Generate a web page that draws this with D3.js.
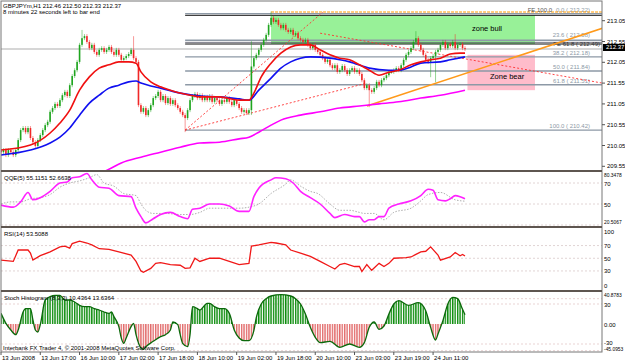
<!DOCTYPE html>
<html>
<head>
<meta charset="utf-8">
<script src="https://cdn.jsdelivr.net/npm/d3@7"></script>
<style>
  body { margin: 0; background: #fff; }
  svg { display: block; font-family: "Liberation Sans", Arial, sans-serif; }
</style>
</head>
<body>
<script>
// ---- data ----
const symbolTitle = "GBPJPYm,H1  212.46 212.50 212.33 212.37";
const timerText = "8 minutes 22 seconds left to bar end";

// hourly closes, open = previous close
const closes = [
  209.89,209.94,209.82,209.94,209.89,209.82,209.94,210.18,
  210.42,210.47,210.37,210.47,210.23,210.13,210.04,210.18,
  210.30,210.42,210.54,210.62,210.86,210.95,211.05,211.00,
  211.14,211.26,211.34,211.24,211.50,211.72,211.86,212.06,
  212.47,212.63,212.68,212.54,212.39,212.47,212.30,212.23,
  212.35,212.39,212.30,212.35,212.42,212.30,212.23,212.35,
  212.23,212.11,212.15,212.20,212.25,212.35,212.15,212.06,
  211.02,210.86,210.95,210.78,210.90,211.02,211.19,211.24,
  211.34,211.14,211.24,211.07,211.19,211.05,211.14,211.02,
  210.95,210.86,210.78,210.71,210.90,211.14,211.24,211.29,
  211.19,211.26,211.14,211.22,211.14,211.24,211.10,211.19,
  211.14,211.05,211.14,211.10,211.19,211.10,211.02,211.14,
  211.05,210.95,210.86,210.90,210.83,210.90,211.95,212.15,
  212.23,212.35,212.47,212.59,212.71,212.95,213.12,213.02,
  213.07,212.95,212.87,212.95,212.83,212.78,212.83,212.71,
  212.75,212.63,212.59,212.54,212.59,212.47,212.39,212.47,
  212.35,212.30,212.23,212.15,212.06,212.11,211.98,211.91,
  211.98,211.82,211.86,211.96,211.86,211.77,211.86,211.91,
  211.82,211.86,211.77,211.62,211.43,211.50,211.38,211.34,
  211.43,211.58,211.50,211.62,211.67,211.74,211.82,211.82,
  211.86,211.91,211.86,211.98,212.11,212.23,212.30,212.39,
  212.54,212.63,212.47,212.35,212.23,212.11,212.06,212.15,
  212.20,212.30,212.35,212.47,212.54,212.39,212.49,212.44,
  212.54,212.39,212.47,212.49,212.39,212.37
];
const firstOpen = 209.92;
// long wicks
const spikeBars  = [33, 54, 75, 102, 110, 150, 169, 175, 177, 185];
const spikeHighs = [212.78, 212.63, null, 212.51, 213.22, null, 212.75, null, null, 212.68];
const spikeLows  = [null, null, 210.42, 210.83, null, 211.02, null, 211.74, 211.62, null];

// moving averages: [bar, price]
const redMA = [[0,209.94],[12,210.06],[20,210.35],[24,210.59],[28,210.90],[32,211.38],[36,211.70],[40,211.91],[44,211.99],[48,212.06],[52,212.06],[55,212.03],[57,211.82],[61,211.58],[65,211.46],[69,211.38],[73,211.31],[77,211.26],[81,211.22],[89,211.22],[97,211.14],[101,211.14],[103,211.31],[106,211.70],[110,212.03],[114,212.27],[118,212.42],[122,212.47],[126,212.47],[130,212.35],[134,212.23],[138,212.15],[142,212.11],[146,211.99],[150,211.86],[154,211.74],[158,211.81],[162,211.86],[167,211.99],[171,212.06],[175,212.11],[179,212.15],[183,212.25],[187,212.27],[189,212.27]];
const blueMA = [[0,209.82],[12,209.94],[20,210.11],[24,210.25],[28,210.47],[32,210.78],[36,211.07],[40,211.26],[44,211.43],[48,211.50],[52,211.58],[55,211.60],[57,211.55],[61,211.48],[65,211.43],[73,211.31],[81,211.24],[89,211.22],[97,211.17],[101,211.14],[105,211.38],[110,211.67],[114,211.91],[118,212.06],[122,212.15],[126,212.18],[134,212.15],[138,212.11],[142,212.06],[150,211.91],[158,211.86],[162,211.86],[167,211.94],[171,212.03],[179,212.06],[183,212.11],[189,212.18]];
const magentaMA = [[42,209.42],[45,209.51],[49,209.63],[57,209.77],[65,209.89],[73,210.01],[81,210.11],[89,210.13],[97,210.21],[101,210.25],[105,210.37],[110,210.54],[114,210.66],[122,210.78],[130,210.86],[138,210.95],[146,211.00],[154,211.05],[162,211.10],[171,211.19],[179,211.26],[189,211.38]];

// fibonacci retracement (drawn from bar 75)
const fibNames  = ["0.0", "23.6", "38.2", "50.0", "61.8", "100.0"];
const fibPrices = [213.22, 212.58, 212.18, 211.84, 211.51, 210.42];
const fibStart = 75;
const zoneNames = ["zone bull", "Zone bear"];
const zoneStart = [110, 190];
const zoneEnd   = [217.5, 217.5];
const zoneHigh  = [213.18, 212.23];
const zoneLow   = [212.49, 211.38];
const zoneColors = ["#98f198", "#ffbccb"];
// trend lines: [bar1, price1, bar2, price2]
const orangeLine = [149, 211.00, 245, 212.87];
const redDotted = [[75, 210.42, 131, 213.25], [75, 210.42, 149, 211.55], [130, 212.75, 245, 211.55]];
const bidPrice = 212.37;

const priceTicks = [213.05, 212.55, 212.05, 211.55, 211.05, 210.55, 210.05, 209.55];
const timeBars = [0, 16, 32, 48, 64, 80, 96, 112, 128, 144, 160, 176];
const timeLabels = ["13 Jun 2008", "13 Jun 17:00", "16 Jun 10:00", "17 Jun 02:00", "17 Jun 18:00", "18 Jun 10:00",
  "19 Jun 02:00", "19 Jun 18:00", "20 Jun 10:00", "23 Jun 03:00", "23 Jun 19:00", "24 Jun 11:00"];

// QQE(5): [bar, value]
const qqeMain = [[0,49],[5,47],[8,52],[11,61],[13,54],[16,56],[20,62],[24,70],[27,71],[29,75],[32,76],[35,79],[37,73],[40,66],[44,65],[48,58],[53,57],[55,46],[57,38],[59,32],[62,36],[65,40],[69,42],[73,38],[76,36],[78,45],[81,46],[85,50],[89,50],[93,48],[97,43],[101,43],[103,57],[105,65],[110,73],[112,75],[116,74],[119,70],[122,62],[126,56],[130,50],[134,41],[136,37],[140,40],[144,38],[146,38],[148,33],[150,35],[152,35],[154,38],[156,38],[158,46],[162,50],[167,53],[171,58],[174,64],[176,63],[178,54],[181,53],[183,55],[185,58],[187,57],[189,55]];
const qqeSignal = [[0,50],[4,52],[8,52],[12,55],[16,56],[20,59],[24,66],[28,70],[32,72],[36,75],[39,78],[42,70],[46,67],[50,60],[55,58],[57,50],[59,44],[62,41],[67,41],[73,40],[77,40],[81,42],[85,46],[89,46],[97,46],[101,47],[105,50],[110,60],[116,69],[118,73],[122,67],[126,62],[129,60],[134,50],[138,44],[142,44],[146,42],[148,41],[152,41],[156,35],[160,42],[167,46],[171,53],[174,59],[179,61],[185,54],[189,52.7]];
const qqeLevels = [70, 50, 30];

// RSI(14): [bar, value]
const rsi = [[0,47],[5,45],[7,63],[11,63],[12,58],[13,47],[16,54],[20,60],[24,68],[26,69],[28,66],[29,73],[32,77],[35,74],[37,71],[40,65],[44,64],[48,60],[53,55],[55,45],[57,30],[58,28],[61,34],[63,42],[65,43],[69,40],[73,39],[75,34],[77,35],[79,50],[81,45],[85,50],[89,50],[93,45],[97,40],[101,42],[102,69],[105,71],[110,75],[112,74],[116,71],[118,63],[122,58],[126,53],[130,45],[134,37],[136,33],[138,40],[140,42],[144,37],[146,37],[147,29],[149,40],[151,31],[154,42],[156,37],[158,42],[160,50],[165,51],[167,52],[169,56],[171,60],[173,61],[175,68],[178,55],[179,47],[183,52],[185,59],[187,54],[188,56],[189,53.5]];
const rsiLevels = [70, 50, 30];

// Stoch histogram: [bar, value]
const stoch = [[0,16],[2,1],[4,-9],[6,-16],[7,-9],[9,18],[10,23],[12,23],[13,6],[14,-9],[15,-12],[16,-1],[18,36],[20,41],[22,43],[24,43],[26,36],[28,36],[30,33],[32,28],[34,26],[36,26],[38,23],[40,21],[42,18],[44,16],[45,18],[46,11],[48,-4],[49,-21],[50,-29],[51,-21],[53,-4],[54,1],[55,-16],[57,-36],[58,-38],[59,-34],[62,-26],[65,-19],[67,-16],[69,-9],[70,3],[72,-1],[73,-16],[74,-29],[76,-34],[77,-16],[78,26],[80,23],[81,21],[84,31],[85,31],[87,26],[89,23],[91,23],[93,16],[95,-9],[97,-21],[99,-25],[101,-25],[103,-10],[104,10],[106,30],[108,38],[110,42],[114,44],[118,42],[120,38],[122,30],[124,15],[126,-5],[128,-20],[130,-28],[134,-26],[138,-35],[142,-30],[146,-35],[148,-28],[150,-5],[152,3],[154,-8],[156,-3],[158,15],[160,30],[162,35],[166,28],[170,32],[173,20],[175,-5],[177,-24],[178,-15],[180,5],[182,30],[184,40],[186,38],[188,22],[189,14]];
const stochLevels = [38, 30, -30, -40];

// ---- layout ----
const width = 625, height = 363;
const left = 1, right = 602, bottom = 352;
const panels = { main: [2, 170], qqe: [172, 226], rsi: [228, 290], stoch: [292, 352] };

const x = d3.scaleLinear().domain([0, 189]).range([1, 465]);
const y = d3.scaleLinear().domain([209.461, 213.50]).range([170, 2]);
const yQ = d3.scaleLinear().domain([30, 70]).range([225, 183]);
const yR = d3.scaleLinear().domain([0, 100]).range([290, 226.5]);
const yS = d3.scaleLinear().domain([-30, 30]).range([344, 304]);

const svg = d3.select("body").append("svg")
  .attr("width", width).attr("height", height)
  .attr("font-size", 6);

const defs = svg.append("defs");
Object.entries(panels).forEach(([k, [t, b]]) => {
  defs.append("clipPath").attr("id", "clip-" + k)
    .append("rect").attr("x", left).attr("y", t).attr("width", right - left).attr("height", b - t);
});
function stripe(id, color) {
  const p = defs.append("pattern").attr("id", id).attr("patternUnits", "userSpaceOnUse")
    .attr("x", x(0) - 0.7).attr("y", 0).attr("width", x(1) - x(0)).attr("height", 4);
  p.append("rect").attr("width", 1.4).attr("height", 4).attr("fill", color);
}
stripe("greenStripe", "#0c8c0c");
stripe("redStripe", "#e26b6b");
defs.append("clipPath").attr("id", "clip-up").append("rect")
  .attr("x", left).attr("y", panels.stoch[0]).attr("width", right - left).attr("height", yS(0) - panels.stoch[0]);
defs.append("clipPath").attr("id", "clip-dn").append("rect")
  .attr("x", left).attr("y", yS(0)).attr("width", right - left).attr("height", bottom - yS(0));

const dotted = (g, y1, color) => g.append("line").attr("x1", left).attr("x2", right)
  .attr("y1", y1).attr("y2", y1).attr("stroke", color).attr("stroke-dasharray", "2,2").attr("stroke-width", 0.8);

// ---- main panel ----
const main = svg.append("g").attr("clip-path", "url(#clip-main)");

// zones
zoneNames.forEach((n, i) => {
  main.append("rect")
    .attr("x", x(zoneStart[i])).attr("width", x(zoneEnd[i]) - x(zoneStart[i]))
    .attr("y", y(zoneHigh[i])).attr("height", y(zoneLow[i]) - y(zoneHigh[i]))
    .attr("fill", zoneColors[i]);
});

// bid line
main.append("line").attr("x1", left).attr("x2", right)
  .attr("y1", y(bidPrice)).attr("y2", y(bidPrice)).attr("stroke", "#c8c8c8").attr("stroke-width", 1.5);

// fib levels
fibPrices.forEach((p, i) => {
  main.append("line").attr("x1", x(fibStart)).attr("x2", right)
    .attr("y1", y(p)).attr("y2", y(p)).attr("stroke", "#8d99a6").attr("stroke-width", 1.4);
  const ty = i === 1 ? y(p) - 3.5 : y(p) - 2;
  main.append("text").attr("x", 590).attr("y", ty).attr("text-anchor", "end")
    .attr("fill", "#8d99a6").text(`${fibNames[i]} ( ${p.toFixed(2)})`);
});
// FE expansion + zone borders
main.append("line").attr("x1", x(110)).attr("x2", right).attr("y1", y(213.26)).attr("y2", y(213.26))
  .attr("stroke", "#ff9900").attr("stroke-dasharray", "3,1").attr("stroke-width", 1.2);
[zoneHigh[0], zoneLow[0]].forEach(p => {
  main.append("line").attr("x1", x(fibStart)).attr("x2", right).attr("y1", y(p)).attr("y2", y(p))
    .attr("stroke", "#111").attr("stroke-width", 1);
});
main.append("line").attr("x1", x(fibStart)).attr("x2", right).attr("y1", y(212.53)).attr("y2", y(212.53))
  .attr("stroke", "#556").attr("stroke-width", 0.8);
main.append("text").attr("x", 600).attr("y", y(212.49) + 1.5).attr("text-anchor", "end")
  .attr("fill", "#333").text("FE 61.8 ( 212.49)");
main.append("text").attr("x", 552).attr("y", y(213.22) - 2).attr("text-anchor", "end")
  .attr("fill", "#555").text("FE 100.0");

// trend lines
redDotted.forEach(d => {
  main.append("line").attr("x1", x(d[0])).attr("y1", y(d[1])).attr("x2", x(d[2])).attr("y2", y(d[3]))
    .attr("stroke", "#ff3030").attr("stroke-dasharray", "2,2").attr("stroke-width", 0.9);
});
main.append("line").attr("x1", x(orangeLine[0])).attr("y1", y(orangeLine[1]))
  .attr("x2", x(orangeLine[2])).attr("y2", y(orangeLine[3]))
  .attr("stroke", "#ff9a1a").attr("stroke-width", 1.6);

main.append("text").attr("x", 472).attr("y", 31).attr("font-size", 7.5).text(zoneNames[0]);
main.append("text").attr("x", 490).attr("y", 79).attr("font-size", 7.5).text(zoneNames[1]);

// candles
const bars = closes.map((c, i) => {
  const o = i ? closes[i - 1] : firstOpen;
  const s = spikeBars.indexOf(i);
  const hi = s >= 0 && spikeHighs[s] != null ? spikeHighs[s] : Math.max(o, c);
  const lo = s >= 0 && spikeLows[s] != null ? spikeLows[s] : Math.min(o, c);
  return { i, o, c, hi, lo };
});
const candle = main.append("g").selectAll("g").data(bars).join("g")
  .attr("stroke", d => d.c >= d.o ? "#1fa51f" : "#f02828")
  .attr("fill", d => d.c >= d.o ? "#1fa51f" : "#f02828");
candle.append("line")
  .attr("x1", d => x(d.i)).attr("x2", d => x(d.i))
  .attr("y1", d => y(d.hi) - 2).attr("y2", d => y(d.lo) + 2)
  .attr("stroke-width", 0.8).attr("stroke-opacity", 0.6);
candle.append("rect")
  .attr("x", d => x(d.i) - 0.8).attr("width", 1.6)
  .attr("y", d => y(Math.max(d.o, d.c)))
  .attr("height", d => Math.max(1, Math.abs(y(d.o) - y(d.c))))
  .attr("stroke", "none");

// moving averages
const maLine = d3.line().x(d => x(d[0])).y(d => y(d[1])).curve(d3.curveMonotoneX);
[[magentaMA, "#ff00ff"], [blueMA, "#1010f0"], [redMA, "#f01010"]].forEach(([d, c]) => {
  main.append("path").attr("d", maLine(d)).attr("fill", "none").attr("stroke", c).attr("stroke-width", 1.6);
});

svg.append("text").attr("x", 3).attr("y", 8).text(symbolTitle);
svg.append("text").attr("x", 3).attr("y", 14).text(timerText);

// ---- QQE ----
const qqe = svg.append("g").attr("clip-path", "url(#clip-qqe)");
qqeLevels.forEach(v => dotted(qqe, yQ(v), "#d9c9c9"));
svg.append("text").attr("x", 4).attr("y", 180).text("QQE(5) 55.1151 52.6638");
const qLine = d3.line().x(d => x(d[0])).y(d => yQ(d[1])).curve(d3.curveMonotoneX);
qqe.append("path").attr("d", qLine(qqeSignal)).attr("fill", "none")
  .attr("stroke", "#999").attr("stroke-width", 0.8).attr("stroke-dasharray", "1.5,1.5");
qqe.append("path").attr("d", qLine(qqeMain)).attr("fill", "none")
  .attr("stroke", "#ff22ff").attr("stroke-width", 1.6);

// ---- RSI ----
const rsiG = svg.append("g").attr("clip-path", "url(#clip-rsi)");
rsiLevels.forEach(v => dotted(rsiG, yR(v), "#d9c9c9"));
svg.append("text").attr("x", 4).attr("y", 236).text("RSI(14) 53.5088");
rsiG.append("path")
  .attr("d", d3.line().x(d => x(d[0])).y(d => yR(d[1]))(rsi))
  .attr("fill", "none").attr("stroke", "#f01818").attr("stroke-width", 1.3);

// ---- Stoch histogram ----
const st = svg.append("g").attr("clip-path", "url(#clip-stoch)");
stochLevels.forEach(v => dotted(st, yS(v), "#e3c8c8"));
svg.append("text").attr("x", 4).attr("y", 300).text("Stoch Histogram (8,3,3) 10.4364 13.6364");
svg.append("text").attr("x", 3).attr("y", 350).text("Interbank FX Trader 4, \u00a9 2001-2008 MetaQuotes Software Corp.");
const sArea = d3.area().x(d => x(d[0])).y0(yS(0)).y1(d => yS(d[1])).curve(d3.curveMonotoneX);
st.append("path").attr("d", sArea(stoch)).attr("fill", "url(#greenStripe)").attr("clip-path", "url(#clip-up)");
st.append("path").attr("d", sArea(stoch)).attr("fill", "url(#redStripe)").attr("clip-path", "url(#clip-dn)");
st.append("path").attr("d", d3.line().x(d => x(d[0])).y(d => yS(d[1])).curve(d3.curveMonotoneX)(stoch))
  .attr("fill", "none").attr("stroke", "#0b690b").attr("stroke-width", 1.3);

// ---- frame, separators, axes ----
svg.append("rect").attr("x", left).attr("y", 1).attr("width", right - left).attr("height", bottom - 1)
  .attr("fill", "none").attr("stroke", "#777").attr("stroke-width", 1);
[171, 227, 291].forEach(s => {
  svg.append("line").attr("x1", left).attr("x2", right).attr("y1", s).attr("y2", s)
    .attr("stroke", "#5e5650").attr("stroke-width", 2);
});

const axisText = (yy, t) => {
  svg.append("line").attr("x1", right).attr("x2", right + 3).attr("y1", yy).attr("y2", yy).attr("stroke", "#555");
  svg.append("text").attr("x", right + 5).attr("y", yy + 2).text(t);
};
priceTicks.forEach(p => axisText(y(p), p.toFixed(2)));

// bid box
svg.append("rect").attr("x", right + 1).attr("y", y(bidPrice) - 5).attr("width", 22).attr("height", 7).attr("fill", "#000");
svg.append("text").attr("x", right + 4).attr("y", y(bidPrice)).attr("fill", "#fff").text(bidPrice.toFixed(2));

// indicator scales (long labels in a smaller size to fit the margin)
const sideText = (yy, t) => {
  const el = svg.append("text").attr("x", right + 2).attr("y", yy).text(t);
  if (t.length > 5) el.attr("font-size", 4.9);
};
sideText(177, "80.3478"); sideText(yQ(70) + 2.5, "70"); sideText(yQ(50) + 2.5, "50"); sideText(224, "20.5067");
sideText(234, "100"); rsiLevels.forEach(v => sideText(yR(v) + 2.5, String(v))); sideText(288, "0");
sideText(297, "40.8783"); sideText(yS(30) + 2.5, "30"); sideText(yS(0) + 2.5, "0.00"); sideText(yS(-30) + 1, "-30"); sideText(351, "-45.0953");

// time axis
timeBars.forEach((b, i) => {
  svg.append("line").attr("x1", x(b)).attr("x2", x(b)).attr("y1", bottom).attr("y2", bottom + 3).attr("stroke", "#555");
  svg.append("text").attr("x", x(b) + 1).attr("y", 360).text(timeLabels[i]);
});
</script>
</body>
</html>
